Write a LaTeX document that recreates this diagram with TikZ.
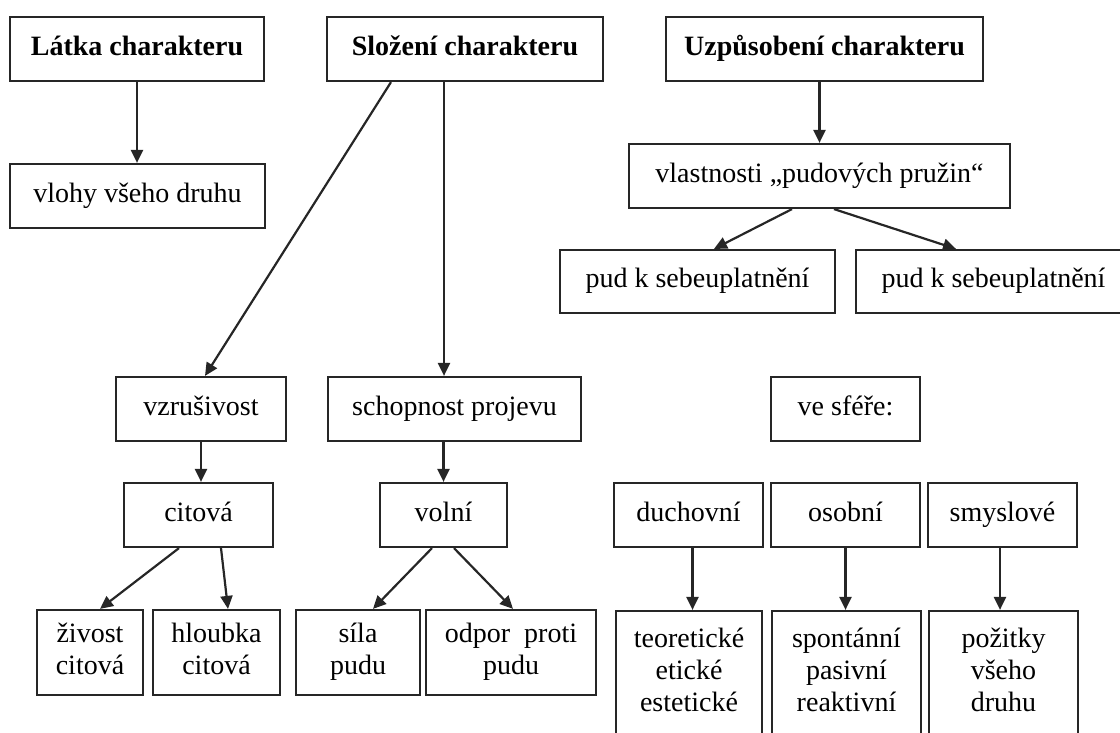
\documentclass[tikz,border=0pt]{standalone}
\usepackage{fontspec}
\setmainfont{Liberation Serif}
\usetikzlibrary{arrows.meta,calc}
\begin{document}
\begin{tikzpicture}[x=1pt,y=-1pt,
  box/.style={draw=black!85,line width=2.2pt,inner sep=0pt,align=center,
    font=\fontsize{28}{32}\selectfont},
  hbox/.style={box,font=\fontsize{28}{32}\selectfont\bfseries},
  arr/.style={draw=black!85,line width=2.2pt,-{Triangle[length=13pt,width=12pt]}}
]
\useasboundingbox (0,0) rectangle (1120,733);
\clip (0,0) rectangle (1120,733);
% top row
\node[hbox,minimum width=254pt,minimum height=64pt] (latka) at (137,49) {\strut Látka charakteru};
\node[hbox,minimum width=276pt,minimum height=64pt] (slozeni) at (465,49) {\strut Složení charakteru};
\node[hbox,minimum width=317pt,minimum height=64pt] (uzp) at (824.5,49) {\strut Uzpůsobení charakteru};
% second level
\node[box,minimum width=255pt,minimum height=64pt] (vlohy) at (137.5,196) {\strut vlohy všeho druhu};
\node[box,minimum width=381pt,minimum height=64pt] (vlast) at (819.5,176) {\strut vlastnosti „pudových pružin“};
\node[box,minimum width=275pt,minimum height=63pt] (pudL) at (697.5,281.5) {\strut pud k sebeuplatnění};
\node[box,minimum width=275pt,minimum height=63pt] (pudR) at (993.5,281.5) {\strut pud k sebeuplatnění};
% third row
\node[box,minimum width=170pt,minimum height=64pt] (vzr) at (201,409) {\strut vzrušivost};
\node[box,minimum width=253pt,minimum height=64pt] (schop) at (454.5,409) {\strut schopnost projevu};
\node[box,minimum width=149pt,minimum height=64pt] (sfere) at (845.5,409) {\strut ve sféře:};
% fourth row
\node[box,minimum width=149pt,minimum height=64pt] (citova) at (198.5,515) {\strut citová};
\node[box,minimum width=127pt,minimum height=64pt] (volni) at (443.5,515) {\strut volní};
\node[box,minimum width=149pt,minimum height=64pt] (duch) at (688.5,515) {\strut duchovní};
\node[box,minimum width=149pt,minimum height=64pt] (osob) at (845.5,515) {\strut osobní};
\node[box,minimum width=149pt,minimum height=64pt] (smysl) at (1002.5,515) {\strut smyslové};
% bottom row
\node[box,minimum width=106pt,minimum height=85pt] (zivost) at (90,652.5) {\strut živost\\\strut citová};
\node[box,minimum width=127pt,minimum height=85pt] (hloubka) at (216.5,652.5) {\strut hloubka\\\strut citová};
\node[box,minimum width=124pt,minimum height=85pt] (sila) at (358,652.5) {\strut síla\\\strut pudu};
\node[box,minimum width=170pt,minimum height=85pt] (odpor) at (511,652.5) {\strut odpor\ \ proti\\\strut pudu};
\node[box,minimum width=146pt,minimum height=124pt] (teor) at (689,673) {\strut teoretické\\\strut etické\\\strut estetické};
\node[box,minimum width=149pt,minimum height=124pt] (spont) at (846.5,673) {\strut spontánní\\\strut pasivní\\\strut reaktivní};
\node[box,minimum width=149pt,minimum height=124pt] (pozit) at (1003.5,673) {\strut požitky\\\strut všeho\\\strut druhu};
% connectors
\draw[arr] (latka.south) -- (latka.south |- vlohy.north);
\draw[arr] ([xshift=-74pt]slozeni.south) -- ([xshift=4pt]vzr.north);
\draw[arr] ([xshift=-21pt]slozeni.south) -- ([xshift=-21pt]slozeni.south |- schop.north);
\draw[arr] (vlast.north |- uzp.south) -- (vlast.north);
\draw[arr] ([xshift=-27.5pt]vlast.south) -- ([xshift=16.5pt]pudL.north);
\draw[arr] ([xshift=14.5pt]vlast.south) -- ([xshift=-37.5pt]pudR.north);
\draw[arr] (vzr.south) -- (vzr.south |- citova.north);
\draw[arr] (volni.north |- schop.south) -- (volni.north);
\draw[arr] ([xshift=-19.5pt]citova.south) -- ([xshift=10pt]zivost.north);
\draw[arr] ([xshift=22.5pt]citova.south) -- ([xshift=11.5pt]hloubka.north);
\draw[arr] ([xshift=-11.5pt]volni.south) -- ([xshift=15pt]sila.north);
\draw[arr] ([xshift=10.5pt]volni.south) -- ([xshift=2pt]odpor.north);
\draw[arr] ([xshift=4pt]duch.south) -- ([xshift=4pt]duch.south |- teor.north);
\draw[arr] (osob.south) -- (osob.south |- spont.north);
\draw[arr] ([xshift=-2.5pt]smysl.south) -- ([xshift=-2.5pt]smysl.south |- pozit.north);
\end{tikzpicture}
\end{document}
